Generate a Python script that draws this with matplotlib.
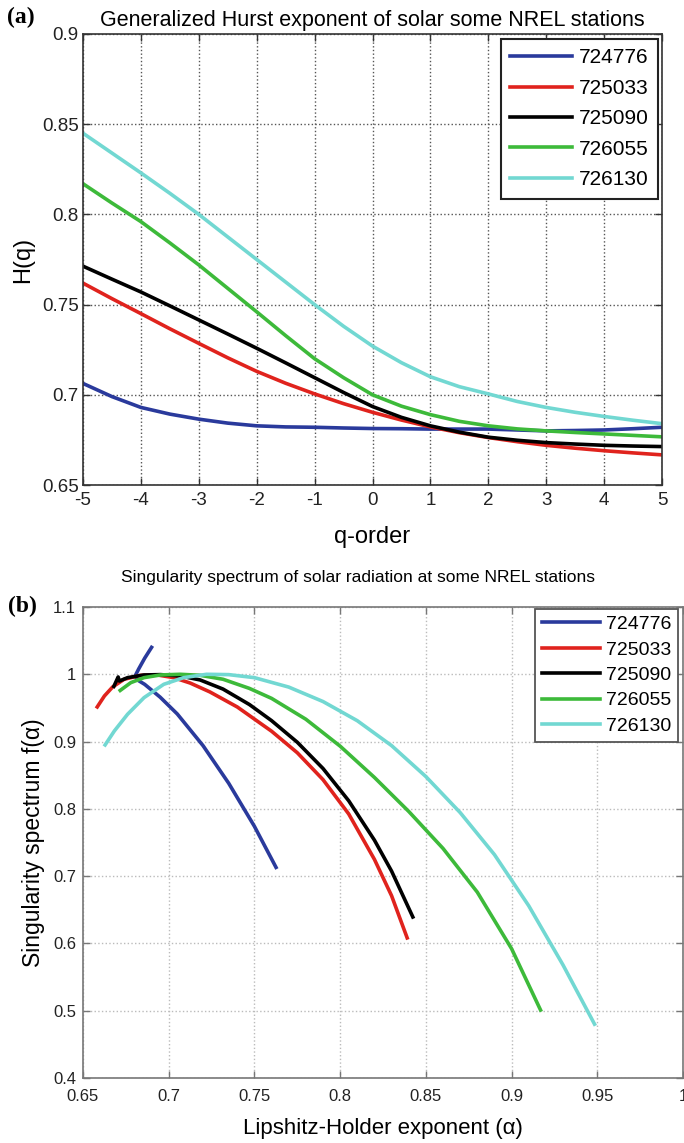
import matplotlib
matplotlib.use("Agg")
import matplotlib.pyplot as plt
from matplotlib.ticker import FormatStrFormatter
import numpy as np

plt.rcParams['font.family'] = ['Liberation Sans', 'DejaVu Sans']
plt.rcParams['axes.unicode_minus'] = False

stations = ['724776', '725033', '725090', '726055', '726130']
colors = ['#2a3a9c', '#e0231d', '#000000', '#3dba3a', '#72d8d2']

# panel (a): generalized Hurst exponent H(q)
q = [-5, -4.5, -4, -3.5, -3, -2.5, -2, -1.5, -1, -0.5, 0,
     0.5, 1, 1.5, 2, 2.5, 3, 3.5, 4, 4.5, 5]
hq = {
    '724776': [0.7063, 0.6990, 0.6930, 0.6893, 0.6865, 0.6843, 0.6828, 0.6822, 0.6820, 0.6816, 0.6813,
               0.6812, 0.6810, 0.6810, 0.6810, 0.6805, 0.6800, 0.6802, 0.6805, 0.6812, 0.6820],
    '725033': [0.7619, 0.7533, 0.7450, 0.7366, 0.7285, 0.7205, 0.7130, 0.7064, 0.7005, 0.6951, 0.6903,
               0.6860, 0.6822, 0.6790, 0.6763, 0.6740, 0.6720, 0.6704, 0.6690, 0.6678, 0.6667],
    '725090': [0.7713, 0.7641, 0.7570, 0.7493, 0.7415, 0.7337, 0.7258, 0.7177, 0.7095, 0.7013, 0.6935,
               0.6875, 0.6828, 0.6793, 0.6765, 0.6748, 0.6735, 0.6727, 0.6720, 0.6716, 0.6713],
    '726055': [0.8170, 0.8063, 0.7960, 0.7842, 0.7720, 0.7590, 0.7460, 0.7328, 0.7200, 0.7095, 0.7000,
               0.6937, 0.6890, 0.6853, 0.6828, 0.6811, 0.6800, 0.6791, 0.6783, 0.6775, 0.6767],
    '726130': [0.8450, 0.8340, 0.8230, 0.8117, 0.8000, 0.7875, 0.7750, 0.7625, 0.7500, 0.7380, 0.7270,
               0.7178, 0.7100, 0.7045, 0.7005, 0.6963, 0.6930, 0.6903, 0.6880, 0.6859, 0.6840],
}

# panel (b): singularity spectrum f(alpha)
alpha = {
    '724776': [0.6900, 0.6860, 0.6825, 0.6805, 0.6815, 0.6860, 0.6950, 0.7050, 0.7200,
               0.7350, 0.7500, 0.7626],
    '725033': [0.6583, 0.6625, 0.6673, 0.6740, 0.6837, 0.6933, 0.7029, 0.7125, 0.7240,
               0.7400, 0.7600, 0.7750, 0.7900, 0.8050, 0.8200, 0.8300, 0.8391],
    '725090': [0.6680, 0.6705, 0.6712, 0.6760, 0.6856, 0.6952, 0.7067, 0.7183, 0.7317,
               0.7471, 0.7600, 0.7750, 0.7900, 0.8050, 0.8200, 0.8300, 0.8424],
    '726055': [0.6717, 0.6779, 0.6856, 0.6952, 0.7067, 0.7183, 0.7317, 0.7471, 0.7600,
               0.7800, 0.8000, 0.8200, 0.8400, 0.8600, 0.8800, 0.9000, 0.9169],
    '726130': [0.6629, 0.6683, 0.6760, 0.6856, 0.6971, 0.7087, 0.7221, 0.7350, 0.7500,
               0.7700, 0.7900, 0.8100, 0.8300, 0.8500, 0.8700, 0.8900, 0.9100, 0.9300, 0.9484],
}
f_alpha = {
    '724776': [1.040, 1.024, 1.008, 0.998, 0.992, 0.985, 0.966, 0.941, 0.894,
               0.838, 0.774, 0.713],
    '725033': [0.9515, 0.9678, 0.9812, 0.9926, 0.9985, 0.9990, 0.9950, 0.9870, 0.9738,
               0.9514, 0.9154, 0.8834, 0.8434, 0.7924, 0.7249, 0.6709, 0.6082],
    '725090': [0.982, 0.996, 0.990, 0.995, 0.999, 0.9995, 0.9975, 0.9916, 0.978,
               0.955, 0.9311, 0.899, 0.860, 0.812, 0.7535, 0.7075, 0.6393],
    '726055': [0.976, 0.9876, 0.995, 0.999, 1.000, 0.9985, 0.9926, 0.979, 0.9642,
               0.9332, 0.8932, 0.8467, 0.7962, 0.7412, 0.6762, 0.5922, 0.501],
    '726130': [0.895, 0.9158, 0.9406, 0.9653, 0.9851, 0.995, 1.000, 0.9995, 0.995,
               0.981, 0.9595, 0.931, 0.894, 0.848, 0.7945, 0.732, 0.656, 0.568, 0.480],
}

W, H = 684, 1143
fig = plt.figure(figsize=(W / 100, H / 100), dpi=100)
fig.set_facecolor('white')


def px_axes(x0, y0, x1, y1):
    return fig.add_axes([x0 / W, 1 - y1 / H, (x1 - x0) / W, (y1 - y0) / H])


def style(ax, gridcolor, spinecolor, labelsize):
    ax.grid(True, linestyle=':', color=gridcolor, linewidth=1.0)
    ax.set_axisbelow(True)
    for s in ax.spines.values():
        s.set_color(spinecolor)
        s.set_linewidth(1.2)
    ax.tick_params(direction='in', length=5, width=1.0, top=True, right=True,
                   labelsize=labelsize, colors=spinecolor, labelcolor='#222222', pad=5)


# ---- (a)
ax1 = px_axes(83, 34, 662, 485)
for st, c in zip(stations, colors):
    ax1.plot(q, hq[st], color=c, linewidth=2.6, label=st)
ax1.set_xlim(-5, 5)
ax1.set_ylim(0.65, 0.9)
ax1.set_xticks(range(-5, 6))
ax1.set_yticks(np.arange(0.65, 0.901, 0.05))
ax1.yaxis.set_major_formatter(FormatStrFormatter('%g'))
style(ax1, '#555555', '#333333', 13.5)
ax1.tick_params(axis='y', pad=3)
ax1.set_title('Generalized Hurst exponent of solar some NREL stations', fontsize=15.5, pad=6)
ax1.set_xlabel('q-order', fontsize=17, labelpad=12)
ax1.set_ylabel('H(q)', fontsize=17, labelpad=6)
leg1 = ax1.legend(loc='upper right', bbox_to_anchor=(0.993, 0.989), fontsize=15,
                  handlelength=3.0, fancybox=False, framealpha=1, borderaxespad=0,
                  labelspacing=0.55, handletextpad=0.3, borderpad=0.45)
leg1.get_frame().set_edgecolor('#222222')
leg1.get_frame().set_linewidth(1.5)

# ---- (b)
ax2 = px_axes(83, 607, 683, 1078)
for st, c in zip(stations, colors):
    ax2.plot(alpha[st], f_alpha[st], color=c, linewidth=2.6, label=st)
ax2.set_xlim(0.65, 1.0)
ax2.set_ylim(0.4, 1.1)
ax2.set_xticks(np.arange(0.65, 1.001, 0.05))
ax2.set_yticks(np.arange(0.4, 1.101, 0.1))
ax2.xaxis.set_major_formatter(FormatStrFormatter('%g'))
ax2.yaxis.set_major_formatter(FormatStrFormatter('%g'))
style(ax2, '#bbbbbb', '#777777', 12)
ax2.tick_params(axis='x', pad=8)
ax2.set_title('Singularity spectrum of solar radiation at some NREL stations',
              fontsize=12.5, pad=18, x=0.458)
ax2.set_xlabel('Lipshitz-Holder exponent (\u03b1)', fontsize=16, labelpad=10)
ax2.set_ylabel('Singularity spectrum f(\u03b1)', fontsize=16.5, labelpad=6)
leg2 = ax2.legend(loc='upper right', bbox_to_anchor=(0.992, 0.996), fontsize=14,
                  handlelength=3.0, fancybox=False, framealpha=1, borderaxespad=0,
                  labelspacing=0.4, handletextpad=0.3, borderpad=0.35)
leg2.get_frame().set_edgecolor('#555555')
leg2.get_frame().set_linewidth(1.3)

fig.text(7 / W, 1 - 17 / H, '(a)', fontsize=17, fontweight='bold',
         family='Liberation Serif', va='center', ha='left')
fig.text(8 / W, 1 - 606 / H, '(b)', fontsize=17, fontweight='bold',
         family='Liberation Serif', va='center', ha='left')

fig.savefig('out.png', dpi=100)
